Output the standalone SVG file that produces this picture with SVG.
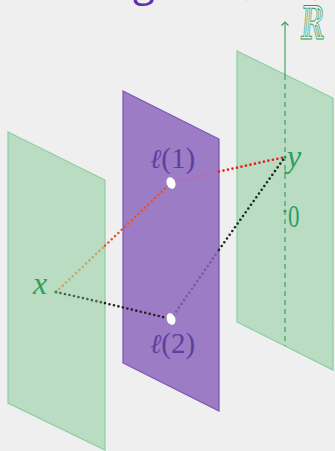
<svg xmlns="http://www.w3.org/2000/svg" width="335" height="451" viewBox="0 0 335 451">
<defs>
<style>
.green{fill:#b9dcc2;stroke:#8acf9f;stroke-width:1.2}
.purple{fill:#9b7cc5;stroke:#7a55b5;stroke-width:1.2}
.dot{fill:none;stroke-width:2.6;stroke-linecap:round;stroke-dasharray:0 4.6}
.gl{fill:#2e9e5e;font-family:"Liberation Serif",serif;font-style:italic}
.pl{fill:#5e3fa0;font-family:"Liberation Serif",serif}
.pt{fill:#ffffff}
</style>
<marker id="arr" markerWidth="10" markerHeight="10" refX="8" refY="5" orient="auto" markerUnits="userSpaceOnUse" viewBox="0 0 10 10">
<path d="M4.5,1.5 L8,5 L4.5,8.5" fill="none" stroke="#2e9e5e" stroke-width="1.1"/>
</marker>
</defs>
<rect x="0" y="0" width="335" height="451" fill="#efefef"/>
<g id="title">
<text x="133" y="-4" font-family="Open Sans,sans-serif" font-size="40" fill="#5a35a8">g</text>
<text y="-5" font-family="Liberation Serif,serif" font-size="26" fill="#5a35a8"><tspan x="239">(</tspan><tspan x="280" font-style="italic">g</tspan><tspan x="314">)</tspan><tspan x="324">,</tspan></text>
</g>
<g id="plane-right">
<polygon class="green" points="237,51 333,98 333,370 237,322"/>
</g>
<g id="plane-middle">
<polygon class="purple" points="123,91 219,139 219,411 123,363"/>
</g>
<g id="plane-left">
<polygon class="green" points="8,132 105,180 105,450 8,403"/>
</g>
<g id="axis">
<line x1="285" y1="75" x2="285" y2="22" stroke="#2e9e5e" stroke-width="1.1" marker-end="url(#arr)"/>
<line x1="285" y1="75" x2="285" y2="346" stroke="#2e9e5e" stroke-width="1.1" stroke-dasharray="5 4"/>
<text x="303" y="39" font-family="DejaVu Serif,serif" font-size="46" fill="none" stroke="#2e9e5e" stroke-width="0.9" transform="translate(303 0) scale(0.62 1) skewX(-8) translate(-303 0)">ℝ</text>
<circle cx="285" cy="211" r="1.6" fill="#2e9e5e"/>
<text x="288" y="227" font-family="Liberation Serif,serif" font-size="32" fill="#2e9e5e" transform="translate(288 0) scale(0.72 1) translate(-288 0)">0</text>
</g>
<g id="connectors">
<polyline class="dot" stroke="#c9a46c" points="56,292 105,245.6"/>
<polyline class="dot" stroke="#f04e24" points="105,245.6 171,183"/>
<polyline class="dot" stroke="#4e5e54" points="56,292 105,303.1"/>
<polyline class="dot" stroke="#222222" points="105,303.1 171,319"/>
<polyline class="dot" stroke="#b86aa6" points="171,183 219,171.6"/>
<polyline class="dot" stroke="#e8201c" points="219,171.6 285,157"/>
<polyline class="dot" stroke="#7658a6" points="171,319 219,249.8"/>
<polyline class="dot" stroke="#222222" points="219,249.8 285,157"/>
</g>
<g id="node-x">
<circle cx="56" cy="292" r="1.6" fill="#2e9e5e"/>
<text class="gl" x="33" y="294" font-size="32">x</text>
</g>
<g id="node-y">
<circle cx="285" cy="157" r="1.6" fill="#2e9e5e"/>
<text class="gl" x="287" y="167" font-size="32">y</text>
</g>
<g id="node-l1">
<ellipse class="pt" cx="171" cy="183" rx="4.3" ry="6" transform="rotate(-20 171 183)"/>
<text class="pl" x="150" y="168" font-size="29"><tspan font-family="DejaVu Serif,serif" font-style="italic" font-size="27">ℓ</tspan>(1)</text>
</g>
<g id="node-l2">
<ellipse class="pt" cx="171" cy="319" rx="4.3" ry="6" transform="rotate(-20 171 319)"/>
<text class="pl" x="150" y="353" font-size="29"><tspan font-family="DejaVu Serif,serif" font-style="italic" font-size="27">ℓ</tspan>(2)</text>
</g>
</svg>
